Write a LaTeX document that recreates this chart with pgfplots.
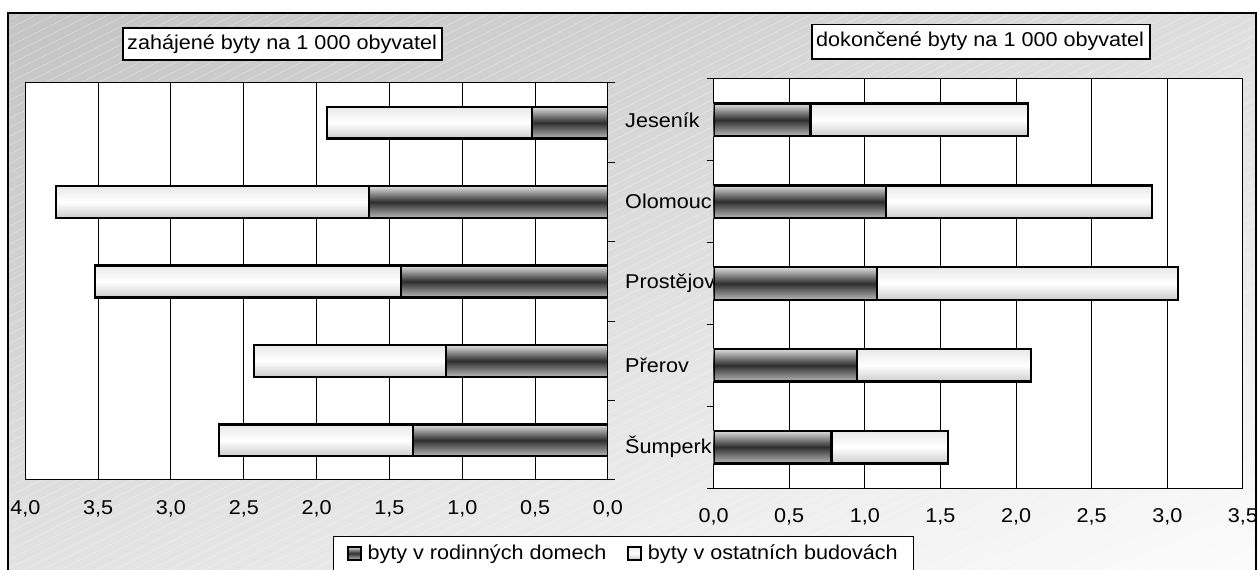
\documentclass[border=0pt]{standalone}
\usepackage{fontspec}
\setmainfont{Liberation Sans}[FakeStretch=1.08]
\usepackage{pgfplots}
\pgfplotsset{compat=1.18}
\usetikzlibrary{shadings}
\definecolor{bgUL}{RGB}{196,196,196}
\definecolor{bgUR}{RGB}{222,222,222}
\definecolor{bgLL}{RGB}{226,226,226}
\definecolor{bgLR}{RGB}{252,252,252}
\pgfplotsset{
  common/.style={
    scale only axis, xbar, bar width=0.4, bar shift=0pt,
    ymin=-0.5, ymax=4.5,
    ytick={0,1,2,3,4},
    minor ytick={-0.5,0.5,1.5,2.5,3.5,4.5},
    major tick length=0pt, minor tick length=7pt, tick align=outside,
    xmajorgrids, major grid style={black, line width=1pt},
    axis line style={black, line width=1pt},
    tick style={black, line width=1pt},
    axis background/.style={fill=white},
    scaled x ticks=false,
    /pgf/number format/.cd, fixed, fixed zerofill, precision=1, use comma, assume math mode=true, /pgfplots/.cd,
    xticklabel style={yshift=-14pt},
    xtick={0,0.5,1,1.5,2,2.5,3,3.5,4},
    tick label style={font=\fontsize{20}{24}\selectfont},
    legend style={font=\fontsize{20}{24}\selectfont},
  },
  darkbar/.style={draw=black, line width=2.4pt, top color=gray!25, bottom color=gray!55, middle color=black!82, forget plot},
  lightbar/.style={draw=black, line width=2.4pt, top color=gray!18, bottom color=gray!40, middle color=white, forget plot},
}
\begin{document}
\fontsize{20}{24}\selectfont
\begin{tikzpicture}[x=1pt,y=1pt]
\useasboundingbox (0,0) rectangle (1258,570);
\clip (0,0) rectangle (1258,570);
\fill[white] (0,0) rectangle (1258,570);
\shade[upper left=bgUL, upper right=bgUR, lower left=bgLL, lower right=bgLR] (8,-5) rectangle (1256,557);
\begin{scope}
\clip (8,-5) rectangle (1256,557);
\foreach \i in {-1300,-1282,...,1260} \draw[white, opacity=0.35, line width=0.6pt] (\i,-5) -- ++(1300,650);
\end{scope}
\draw[black, line width=1.5pt] (8,-5) rectangle (1256,557);

% left: zahajene byty (total bar, then part in family houses over it)
\begin{axis}[common,
  at={(25.3pt,90pt)}, anchor=south west,
  width=582.7pt, height=397pt,
  x dir=reverse, xmin=0, xmax=4,
  ytick pos=right, yticklabels={},
]
\addplot[lightbar] coordinates {(1.93,4)};
\addplot[darkbar]  coordinates {(0.52,4)};
\addplot[lightbar] coordinates {(3.79,3)};
\addplot[darkbar]  coordinates {(1.64,3)};
\addplot[lightbar] coordinates {(3.52,2)};
\addplot[darkbar]  coordinates {(1.42,2)};
\addplot[lightbar] coordinates {(2.43,1)};
\addplot[darkbar]  coordinates {(1.11,1)};
\addplot[lightbar] coordinates {(2.67,0)};
\addplot[darkbar]  coordinates {(1.34,0)};
\end{axis}

% right: dokoncene byty
\begin{axis}[common,
  at={(713.6pt,82pt)}, anchor=south west,
  width=529.3pt, height=409pt,
  xmin=0, xmax=3.5,
  ytick pos=left,
  yticklabels={Šumperk,Přerov,Prostějov,Olomouc,Jeseník},
  yticklabel style={anchor=west, xshift=-88.6pt, inner sep=0pt},
  legend columns=2,
  legend style={at={(-0.719,-0.117)}, anchor=north west, draw=black, line width=1pt, fill=white,
    inner xsep=13.5pt, inner ysep=6pt,
    /tikz/every even column/.append style={column sep=19pt}},
]
\addlegendimage{legend image code/.code={\draw[draw=black, line width=2pt, top color=gray!25, bottom color=gray!55, middle color=black!82] (0pt,-6.5pt) rectangle (13pt,6.5pt); \path (17pt,0pt);}}
\addlegendentry{byty v rodinných domech}
\addlegendimage{legend image code/.code={\draw[draw=black, line width=2pt, top color=gray!18, bottom color=gray!40, middle color=white] (0pt,-6.5pt) rectangle (13pt,6.5pt); \path (17pt,0pt);}}
\addlegendentry{byty v ostatních budovách}
\addplot[lightbar] coordinates {(2.08,4)};
\addplot[darkbar]  coordinates {(0.64,4)};
\addplot[lightbar] coordinates {(2.90,3)};
\addplot[darkbar]  coordinates {(1.14,3)};
\addplot[lightbar] coordinates {(3.07,2)};
\addplot[darkbar]  coordinates {(1.08,2)};
\addplot[lightbar] coordinates {(2.10,1)};
\addplot[darkbar]  coordinates {(0.95,1)};
\addplot[lightbar] coordinates {(1.55,0)};
\addplot[darkbar]  coordinates {(0.78,0)};
\end{axis}

% title boxes
\draw[black, line width=1.5pt, fill=white] (123,542) rectangle (442,510);
\node[anchor=west, inner sep=0pt] at (127,526) {zahájené byty na 1 000 obyvatel};
\draw[black, line width=1.5pt, fill=white] (812,545.7) rectangle (1150,511);
\node[anchor=west, inner sep=0pt] at (816,528.3) {dokončené byty na 1 000 obyvatel};
\end{tikzpicture}
\end{document}
